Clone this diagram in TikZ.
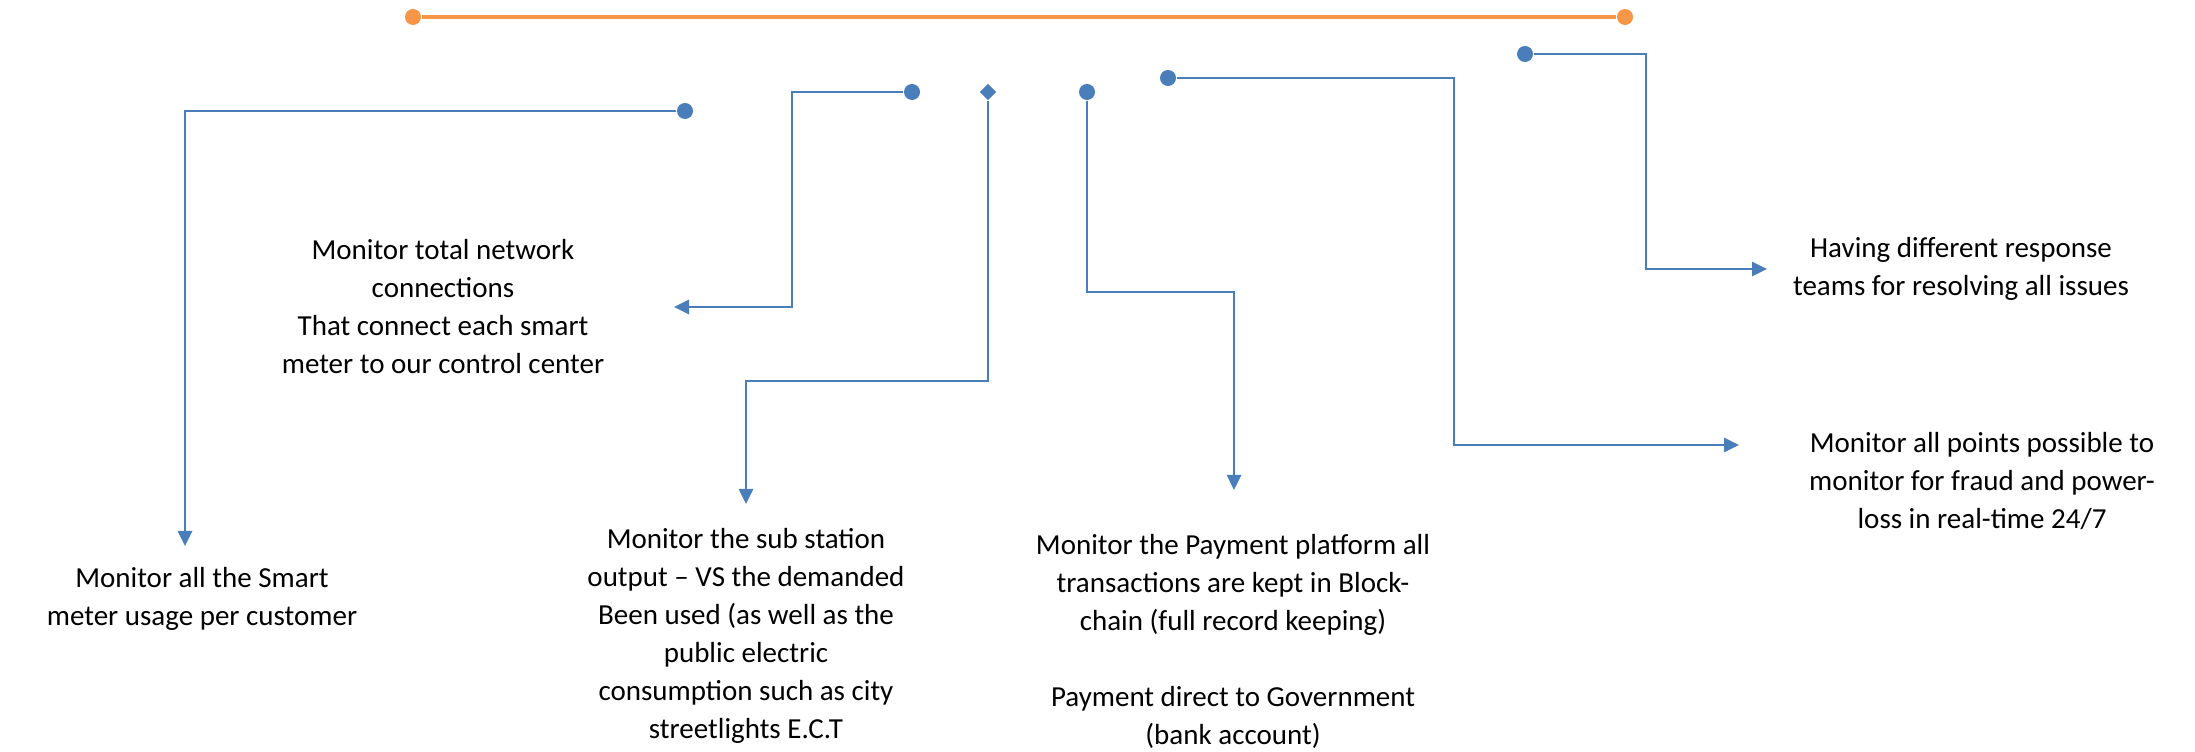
\documentclass[tikz,border=0pt]{standalone}
\usepackage{fontspec}
\setmainfont{Carlito}
\usepackage{tikz}
\usetikzlibrary{calc, shapes.geometric, arrows.meta}
\usepackage{xcolor}
\definecolor{sblue}{HTML}{4A7EBB}
\definecolor{sorange}{HTML}{F79646}

\begin{document}
\begin{tikzpicture}[x=0.01cm, y=-0.01cm,
    DOT/.style={circle, fill=sblue, inner sep=0pt, minimum size=0.16cm},
    DIA/.style={diamond, fill=sblue, inner sep=0pt, minimum size=0.17cm},
    CON/.style={draw=sblue, line width=0.75pt, -{Triangle[length=0.15cm, width=0.14cm]}},
    TXT/.style={align=center, inner sep=0pt, font=\fontsize{8.25pt}{10.8pt}\selectfont}
    ]
        \useasboundingbox (0,0) rectangle (2195,752);
        % orange bar on top
        \node[DOT, fill=sorange] (oL) at (413,17) {};
        \node[DOT, fill=sorange] (oR) at (1625,17) {};
        \draw[sorange, line width=1.1pt] (oL) -- (oR);
        % start points
        \node[DOT] (dA) at (685,111) {};
        \node[DOT] (dB) at (912,92) {};
        \node[DIA] (dC) at (988,92) {};
        \node[DOT] (dD) at (1087,92) {};
        \node[DOT] (dE) at (1168,78) {};
        \node[DOT] (dF) at (1525,54) {};
        % bends and arrow ends
        \coordinate (tA) at (185,546);
        \coordinate (bB) at (792,307);
        \coordinate (tB) at (674,307);
        \coordinate (bC) at (746,381);
        \coordinate (tC) at (746,504);
        \coordinate (bD) at (1234,292);
        \coordinate (tD) at (1234,490);
        \coordinate (bE) at (1454,445);
        \coordinate (tE) at (1739,445);
        \coordinate (bF) at (1646,269);
        \coordinate (tF) at (1767,269);
        \draw[CON] (dA) -| (tA);
        \draw[CON] (dB) -| (bB) -- (tB);
        \draw[CON] (dC) |- (bC) -- (tC);
        \draw[CON] (dD) |- (bD) -- (tD);
        \draw[CON] (dE) -| (bE) -- (tE);
        \draw[CON] (dF) -| (bF) -- (tF);
        % texts
        \node[TXT] (usage) at ($(tA)+(17,53)$) {Monitor all the Smart\\meter usage per customer};
        \node[TXT] (network) at ($(tB)+(-231,0)$) {Monitor total network\\connections\\That connect each smart\\meter to our control center};
        \node[TXT] (station) at ($(tC)+(0,132)$) {Monitor the sub station\\output -- VS the demanded\\Been used (as well as the\\public electric\\consumption such as city\\streetlights E.C.T};
        \node[TXT] (payment) at ($(tD)+(-1,151)$) {Monitor the Payment platform all\\transactions are kept in Block-\\chain (full record keeping)\\[10.8pt]Payment direct to Government\\(bank account)};
        \node[TXT] (fraud) at ($(tE)+(243,36)$) {Monitor all points possible to\\monitor for fraud and power-\\loss in real-time 24/7};
        \node[TXT] (teams) at ($(tF)+(194,0)$) {Having different response\\teams for resolving all issues};
    \end{tikzpicture}
\end{document}
